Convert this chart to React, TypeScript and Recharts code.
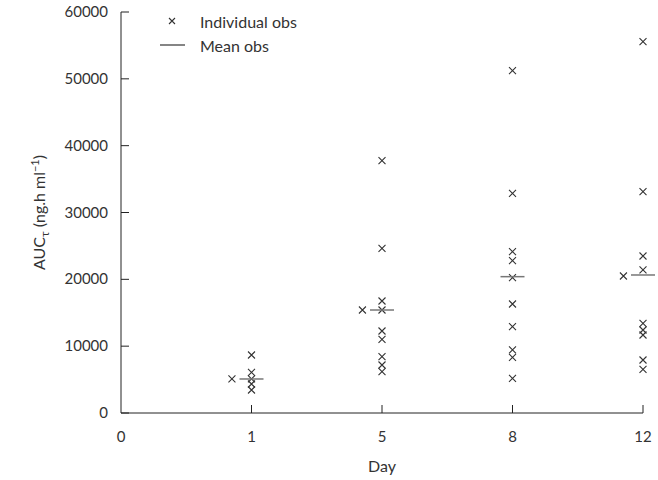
import { ScatterChart, Scatter, XAxis, YAxis } from "recharts";

const days = ["0", "1", "5", "8", "12"];
const yTicks = [0, 10000, 20000, 30000, 40000, 50000, 60000];

// individual AUC values per day (ng.h/ml)
const day1Obs = [8680, 6090, 5090, 4340, 3440];
const day5Obs = [37750, 24640, 16760, 15410, 12270, 11020, 8430, 7180, 6190];
const day8Obs = [51220, 32870, 24140, 22790, 20250, 16310, 12920, 9430, 8330, 5190];
const day12Obs = [55570, 33120, 23490, 21400, 13420, 12420, 11670, 7930, 6540];
// one subject sampled a little before the nominal day (null = none)
const earlyObs = [5090, 15410, null, 20500];
const meanObs = [5090, 15410, 20400, 20650];

const EARLY_SHIFT = 0.15;
const FONT = "Lato, 'Open Sans', sans-serif";
const INK = "#333";
// default recharts tick size + margin, ticks are drawn inward from the axis
const TICK_OFF = 8;

const obsByDay = [day1Obs, day5Obs, day8Obs, day12Obs];

const individual = obsByDay.flatMap((vals, i) => vals.map((v) => ({ x: i + 1, y: v })));
const early = earlyObs.flatMap((v, i) => (v == null ? [] : [{ x: i + 1 - EARLY_SHIFT, y: v }]));
const means = meanObs.map((v, i) => ({ x: i + 1, y: v }));

const drawCross = (cx: number, cy: number, s: number) => (
  <path
    d={`M${cx - s},${cy - s}L${cx + s},${cy + s}M${cx - s},${cy + s}L${cx + s},${cy - s}`}
    stroke={INK}
    strokeWidth={1.1}
    fill="none"
  />
);

const Cross = (props: any) => drawCross(props.cx, props.cy, 3.5);

const MeanBar = (props: any) => {
  const { cx, cy } = props;
  return <line x1={cx - 12} x2={cx + 12} y1={cy} y2={cy} stroke="#777" strokeWidth={1.5} />;
};

const YTick = (props: any) => {
  const { x, y, payload } = props;
  const ax = x + TICK_OFF;
  return (
    <g>
      <line x1={ax} x2={ax + 8} y1={y} y2={y} stroke="#222" />
      <text x={ax - 13} y={y} dy={5} textAnchor="end" fill={INK} fontSize={15} fontFamily={FONT}>
        {payload.value}
      </text>
    </g>
  );
};

const XTick = (props: any) => {
  const { x, y, payload } = props;
  const ay = y - TICK_OFF;
  return (
    <g>
      {payload.value > 0 && <line x1={x} x2={x} y1={ay} y2={ay - 8} stroke="#222" />}
      <text x={x} y={ay + 29} textAnchor="middle" fill={INK} fontSize={15} fontFamily={FONT}>
        {days[payload.value]}
      </text>
    </g>
  );
};

const YLabel = (props: any) => {
  const { viewBox } = props;
  const cx = viewBox.x + 39;
  const cy = viewBox.y + viewBox.height / 2;
  return (
    <text
      x={cx}
      y={cy}
      transform={`rotate(-90, ${cx}, ${cy})`}
      textAnchor="middle"
      dy={6}
      fill={INK}
      fontSize={16}
      fontFamily={FONT}
    >
      AUC
      <tspan fontSize={12} dy={4}>τ</tspan>
      <tspan dy={-4}> (ng.h ml</tspan>
      <tspan fontSize={11} dy={-6}>−1</tspan>
      <tspan dy={6}>)</tspan>
    </text>
  );
};

const XLabel = (props: any) => {
  const { viewBox } = props;
  return (
    <text
      x={viewBox.x + viewBox.width / 2}
      y={viewBox.y + 59}
      textAnchor="middle"
      fill={INK}
      fontSize={16}
      fontFamily={FONT}
    >
      Day
    </text>
  );
};

export default function App() {
  return (
    <div style={{ position: "absolute", left: 0, top: 0, width: 658, height: 480, background: "#fff" }}>
      <ScatterChart width={658} height={480} margin={{ top: 12, right: 15, bottom: 0, left: 0 }}>
        <XAxis
          type="number"
          dataKey="x"
          domain={[0, 4]}
          ticks={[0, 1, 2, 3, 4]}
          height={67}
          tickSize={6}
          tickMargin={2}
          tickLine={false}
          tick={<XTick />}
          stroke="#222"
          label={<XLabel />}
        />
        <YAxis
          type="number"
          dataKey="y"
          domain={[0, 60000]}
          ticks={yTicks}
          width={121}
          tickSize={6}
          tickMargin={2}
          tickLine={false}
          tick={<YTick />}
          stroke="#222"
          label={<YLabel />}
        />
        <Scatter data={individual} shape={<Cross />} isAnimationActive={false} />
        <Scatter data={early} shape={<Cross />} isAnimationActive={false} />
        <Scatter data={means} shape={<MeanBar />} isAnimationActive={false} />
      </ScatterChart>
      <svg
        width={658}
        height={480}
        style={{ position: "absolute", left: 0, top: 0, pointerEvents: "none" }}
      >
        {drawCross(172, 21, 3)}
        <text x={200} y={28} fill={INK} fontSize={16} fontFamily={FONT}>
          Individual obs
        </text>
        <line x1={160} x2={185} y1={45} y2={45} stroke={INK} strokeWidth={1.2} />
        <text x={200} y={52} fill={INK} fontSize={16} fontFamily={FONT}>
          Mean obs
        </text>
      </svg>
    </div>
  );
}
